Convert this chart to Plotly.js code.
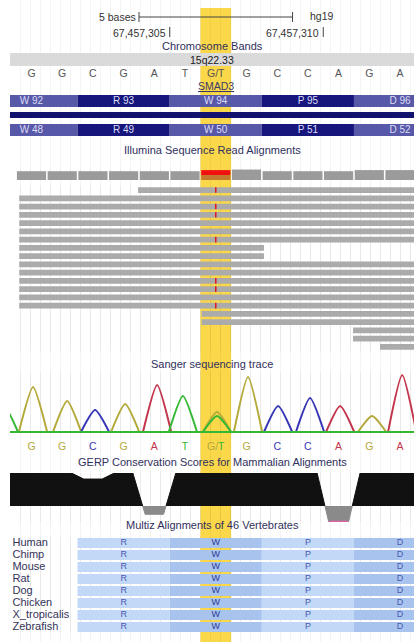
<!DOCTYPE html>
<html><head><meta charset="utf-8">
<script src="https://cdn.plot.ly/plotly-3.0.1.min.js"></script>
<style>html,body{margin:0;padding:0;background:#fff}#chart{width:414px;height:642px}</style>
</head><body><div id="chart"></div>
<script>
// ---------------- data ----------------
const refBases = ['G','G','C','G','A','T','G/T','G','C','C','A','G','A'];
const highlightBase = 6;
const rulerTickPos = [5, 10];
const rulerTickLabels = ['67,457,305', '67,457,310'];
const scaleBar = [4, 9];
const scaleLabel = '5 bases';
const assembly = 'hg19';
const chromBandName = '15q22.33';
const chromBandSpan = [-1, 14];
const geneName = 'SMAD3';
const codonStart = [-1, 2, 5, 8, 11];
const codonLabels1 = ['W 92','R 93','W 94','P 95','D 96'];
const codonLabels2 = ['W 48','R 49','W 50','P 51','D 52'];
const coverageRef = [16,16,16,16,16,16,9,19,16,16,16,18,18];
const coverageAlt = [0,0,0,0,0,0,9,0,0,0,0,0,0];
const readStart = [3.97,0.1,0.1,0.1,0.1,0.1,0.1,0.1,0.1,0.1,0.1,0.1,0.1,0.1,0.1,6.04,6.04,10.97,10.97,11.85];
const readEnd   = [13.5,13.5,13.5,13.5,13.5,13.5,13.5,8.07,8.07,13.5,13.5,13.5,13.5,13.5,13.5,13.5,13.5,13.5,13.5,13.5];
const mismatchRows = [0,2,3,6,11,12,14];
const sangerBase  = ['T','G','G','C','G','A','T','G','T','G','C','C','A','G','A'];
const sangerPeakX = [-0.4,0.55,1.66,2.57,3.55,4.59,5.43,6.54,6.54,7.55,8.53,9.57,10.55,11.59,12.57];
const sangerPeakH = [26,45,31,22,28,47,36,20,16,55,26,34,26,16,57];
const sangerCalls = ['G','G','C','G','A','T','G/T','G','C','C','A','G','A'];
const gerpBase  = [-1,0,1,2,3,4,5,6,7,8,9,10,11,12,13];
const gerpScore = [6,6,6,4.9,6,-1.5,6,6,6,6,6,-3.4,6,6,6];
const species = ['Human','Chimp','Mouse','Rat','Dog','Chicken','X_tropicalis','Zebrafish'];
const multizCodonStart = [2,5,8,11];
const multizAA = ['R','W','P','D'];

// ---------------- style ----------------
const W = 414, H = 642;
const xMin = -0.2, xMax = 12.955;
const FONT = 'Liberation Sans, Arial, sans-serif';
const titleColor = '#30305e';
const chColor = {G:'#b4a93a', C:'#3636b6', A:'#c3354d', T:'#35b835'};
const gerpMin = -2.9;
function dom(top, bottom){ return [1 - bottom/H, 1 - top/H]; }

const traces = [];
const centers = refBases.map((_, i) => i + 0.5);

// chromosome band
traces.push({type:'bar', orientation:'h', y:[59.5], base:[chromBandSpan[0]], x:[chromBandSpan[1]-chromBandSpan[0]],
  width:13, marker:{color:'#dadada', line:{width:0}}, xaxis:'x', yaxis:'y'});

// ruler scale bar
traces.push({type:'scatter', mode:'lines',
  x:[scaleBar[0],scaleBar[0],null,scaleBar[0],scaleBar[1],null,scaleBar[1],scaleBar[1]],
  y:[12,22,null,17,17,null,12,22], line:{color:'#444', width:1}, xaxis:'x', yaxis:'y'});
const tx = [], ty = [];
rulerTickPos.forEach(p => { tx.push(p, p, null); ty.push(27, 37, null); });
traces.push({type:'scatter', mode:'lines', x:tx, y:ty, line:{color:'#444', width:1}, xaxis:'x', yaxis:'y'});

// reference bases
traces.push({type:'scatter', mode:'text', x:centers, y:refBases.map(()=>74), text:refBases,
  textfont:{family:FONT, size:10.5, color:'#555'}, xaxis:'x', yaxis:'y', cliponaxis:false});

// gene codon bars
[[101, codonLabels1],[130, codonLabels2]].forEach(([yy, labels]) => {
  traces.push({type:'bar', orientation:'h', y:codonStart.map(()=>yy), base:codonStart, x:codonStart.map(()=>3),
    width:12, marker:{color:codonStart.map((_,i)=> i%2===0 ? '#5858a8' : '#16167c'), line:{width:0}}, xaxis:'x', yaxis:'y'});
  traces.push({type:'scatter', mode:'text', x:codonStart.map(s=>s+1.5), y:codonStart.map(()=>yy+0.5), text:labels,
    textfont:{family:FONT, size:10, color:'#dcdcf6'}, xaxis:'x', yaxis:'y', cliponaxis:false});
});
traces.push({type:'bar', orientation:'h', y:[115], base:[chromBandSpan[0]], x:[chromBandSpan[1]-chromBandSpan[0]],
  width:6, marker:{color:'#12126e', line:{width:0}}, xaxis:'x', yaxis:'y'});

// coverage
traces.push({type:'bar', x:centers, y:coverageRef, width:0.95,
  marker:{color:centers.map((_,i)=> i===highlightBase ? '#c47a2e' : '#9b9b9b'), line:{width:0}}, xaxis:'x', yaxis:'y2'});
traces.push({type:'bar', x:centers, y:coverageAlt, base:coverageRef, width:0.95,
  marker:{color:'#f01010', line:{width:0}}, xaxis:'x', yaxis:'y2'});

// reads
const rows = readStart.map((_, i) => i);
traces.push({type:'bar', orientation:'h', y:rows, base:readStart, x:readEnd.map((e,i)=>e-readStart[i]),
  width:0.7, marker:{color:'#ababab', line:{width:0}}, xaxis:'x', yaxis:'y3'});
traces.push({type:'scatter', mode:'markers', x:mismatchRows.map(()=>highlightBase+0.5), y:mismatchRows,
  marker:{symbol:'line-ns', size:4, line:{color:'#e01818', width:1.5}}, xaxis:'x', yaxis:'y3'});

// sanger trace
const hw = 0.46;
['G','C','A','T'].forEach(ch => {
  const xs = [], ys = [];
  sangerBase.forEach((b, i) => {
    if (b !== ch) return;
    const p = sangerPeakX[i], h = sangerPeakH[i];
    xs.push(p-hw, p, p+hw, null); ys.push(0, h, 0, null);
  });
  traces.push({type:'scatter', mode:'lines', x:xs, y:ys, connectgaps:false,
    line:{color:chColor[ch], width:2, shape:'spline', smoothing:0.6}, xaxis:'x', yaxis:'y4'});
});
traces.push({type:'scatter', mode:'lines', x:chromBandSpan, y:[0,0], line:{color:chColor.T, width:2}, xaxis:'x', yaxis:'y4'});
traces.push({type:'scatter', mode:'text', x:centers, y:centers.map(()=>447),
  text:sangerCalls.map(s => s.split('/').map((c,j,a)=>`<span style="color:${chColor[c]}">${c}${j<a.length-1?'/':''}</span>`).join('')),
  textfont:{family:FONT, size:10.5, color:'#555'}, xaxis:'x', yaxis:'y', cliponaxis:false});

// GERP: each base value drawn as a plateau across the middle of its base
const gx = [], gy = [];
gerpBase.forEach((b, i) => { gx.push(b+0.2, b+0.8); gy.push(gerpScore[i], gerpScore[i]); });
traces.push({type:'scatter', mode:'lines', x:gx, y:gy, fill:'tozeroy', fillcolor:'#111',
  line:{color:'#111', width:1}, xaxis:'x', yaxis:'y5'});
traces.push({type:'scatter', mode:'lines', x:gx, y:gy, fill:'tozeroy', fillcolor:'#8a8a8a',
  line:{color:'#8a8a8a', width:1}, xaxis:'x', yaxis:'y6'});
const clipX = [], clipY = [];
gerpScore.forEach((v, i) => { if (v < gerpMin) { clipX.push(gerpBase[i]+0.2, gerpBase[i]+0.8, null); clipY.push(gerpMin+0.1, gerpMin+0.1, null); } });
traces.push({type:'scatter', mode:'lines', x:clipX, y:clipY, line:{color:'#e060a8', width:1.5}, xaxis:'x', yaxis:'y6'});

// Multiz
multizCodonStart.forEach((s, c) => {
  traces.push({type:'bar', orientation:'h', y:species, base:species.map(()=>s), x:species.map(()=>3), width:0.82,
    marker:{color: c%2===0 ? '#c2d8f7' : '#a7c3ee', line:{width:0}}, xaxis:'x', yaxis:'y7'});
});
const mzx = [], mzy = [], mzt = [], mzc = [];
species.forEach(sp => multizCodonStart.forEach((s, c) => {
  mzx.push(s+1.5); mzy.push(sp); mzt.push(multizAA[c]); mzc.push(c===1 ? '#2a3a98' : '#4a5cb0');
}));
traces.push({type:'scatter', mode:'text', x:mzx, y:mzy, text:mzt, textfont:{family:FONT, size:9, color:mzc},
  xaxis:'x', yaxis:'y7', cliponaxis:false});
traces.push({type:'scatter', mode:'text', x:species.map(()=>-0.12), y:species, text:species, textposition:'middle right',
  textfont:{family:FONT, size:11, color:'#333358'}, xaxis:'x', yaxis:'y7', cliponaxis:false});

// ---------------- layout ----------------
const ann = (text, y, extra) => Object.assign({xref:'paper', x:0.5, yref:'y', y:y, text:text, showarrow:false,
  font:{family:FONT, size:11, color:titleColor}}, extra||{});
const annotations = [
  ann(scaleLabel, 17, {xref:'x', x:scaleBar[0], xanchor:'right', xshift:-1, font:{family:FONT, size:10.5, color:'#333'}}),
  ann(assembly, 16, {xref:'x', x:scaleBar[1], xanchor:'left', xshift:15, font:{family:FONT, size:10.5, color:'#333'}}),
  ...rulerTickPos.map((p, i) => ann(rulerTickLabels[i], 33, {xref:'x', x:p, xanchor:'right', xshift:-2, font:{family:FONT, size:10.5, color:'#333'}})),
  ann('Chromosome Bands', 46),
  ann(chromBandName, 60, {font:{family:FONT, size:10.5, color:'#222'}}),
  ann(`<span style="text-decoration:underline">${geneName}</span>`, 86, {xref:'x', x:highlightBase+0.5, font:{family:FONT, size:10.5, color:'#3a3a66'}}),
  ann('Illumina Sequence Read Alignments', 150),
  ann('Sanger sequencing trace', 364),
  ann('GERP Conservation Scores for Mammalian Alignments', 462),
  ann('Multiz Alignments of 46 Vertebrates', 525),
];

const hidden = {visible:false, fixedrange:true, anchor:'x'};
const layout = {
  width:W, height:H, margin:{l:10, r:0, t:0, b:0},
  paper_bgcolor:'#ffffff', plot_bgcolor:'rgba(0,0,0,0)',
  showlegend:false, barmode:'overlay', hovermode:false,
  font:{family:FONT, size:10.5, color:'#222'},
  xaxis:{range:[xMin, xMax], showgrid:true, gridcolor:'rgba(0,0,0,0.045)', gridwidth:1, tick0:0.15, dtick:0.3256,
    showticklabels:false, ticks:'', zeroline:false, showline:false, fixedrange:true, anchor:'y'},
  yaxis: Object.assign({}, hidden, {domain:[0,1], range:[H,0]}),
  yaxis2: Object.assign({}, hidden, {domain:dom(169,180), range:[0,20]}),
  yaxis3: Object.assign({}, hidden, {domain:dom(185.9,351.1), range:[19.5,-0.5]}),
  yaxis4: Object.assign({}, hidden, {domain:dom(372,434), range:[-2,60]}),
  yaxis5: Object.assign({}, hidden, {domain:dom(473,506), range:[0,6]}),
  yaxis6: Object.assign({}, hidden, {domain:dom(506,522), range:[gerpMin,0]}),
  yaxis7: Object.assign({}, hidden, {domain:dom(537,633), type:'category', categoryarray:species, categoryorder:'array', range:[7.5,-0.5]}),
  shapes:[{type:'rect', xref:'x', x0:highlightBase, x1:highlightBase+1, yref:'paper', y0:0, y1:1-8/H,
    fillcolor:'#fbd84a', line:{width:0}, layer:'below'}],
  annotations: annotations
};
Plotly.newPlot('chart', traces, layout, {staticPlot:true, displayModeBar:false});
</script></body></html>
